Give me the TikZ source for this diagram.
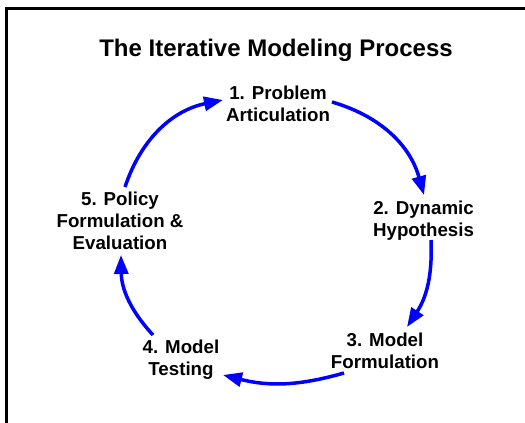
\documentclass[tikz,border=0pt]{standalone}
\usepackage{fontspec}
\setmainfont{Liberation Sans}
\usetikzlibrary{arrows.meta}
\begin{document}
\begin{tikzpicture}[x=1pt,y=-1pt,
  stage/.style={align=center,inner sep=2pt,
    font=\fontsize{18.7}{22}\selectfont\bfseries},
  heading/.style={inner sep=0pt,font=\fontsize{24}{28}\selectfont\bfseries},
  cycle/.style={draw=blue,line width=3.5pt,
    -{Triangle[length=19pt,width=14pt]}},
  frame/.style={draw=black,line width=3pt}]
\useasboundingbox (0,0) rectangle (525,423);
% partial frame along the top and left edges
\draw[frame] (6.5,423) -- (6.5,8.5) -- (525,8.5);
% title
\node[heading,anchor=base] (title) at (276,56) {The Iterative Modeling Process};
% the five stages (placed by the baseline of their last line)
\node[stage,anchor=base] (n1) at (278,121)   {1. Problem\\Articulation};
\node[stage,anchor=base] (n2) at (423.5,236) {2. Dynamic\\Hypothesis};
\node[stage,anchor=base] (n3) at (385,368)   {3. Model\\Formulation};
\node[stage,anchor=base] (n4) at (181,375)   {4. Model\\Testing};
\node[stage,anchor=base] (n5) at (120,249)   {5. Policy\\Formulation \&\\Evaluation};
% clockwise cycle of arrows
\draw[cycle] ([shift={(5,-62)}]n5.base) to[bend left=30] ([shift={(-55,-21)}]n1.base);
\draw[cycle] ([shift={(54,-19)}]n1.base) to[bend left=29] ([shift={(0.5,-41)}]n2.base);
\draw[cycle] ([shift={(7.5,4)}]n2.base) to[bend left=18] ([shift={(22,-41)}]n3.base);
\draw[cycle] ([shift={(-41,5)}]n3.base) to[bend left=15] ([shift={(42,0)}]n4.base);
\draw[cycle] ([shift={(-28,-40)}]n4.base) to[bend left=21] ([shift={(1,6)}]n5.base);
\end{tikzpicture}
\end{document}
